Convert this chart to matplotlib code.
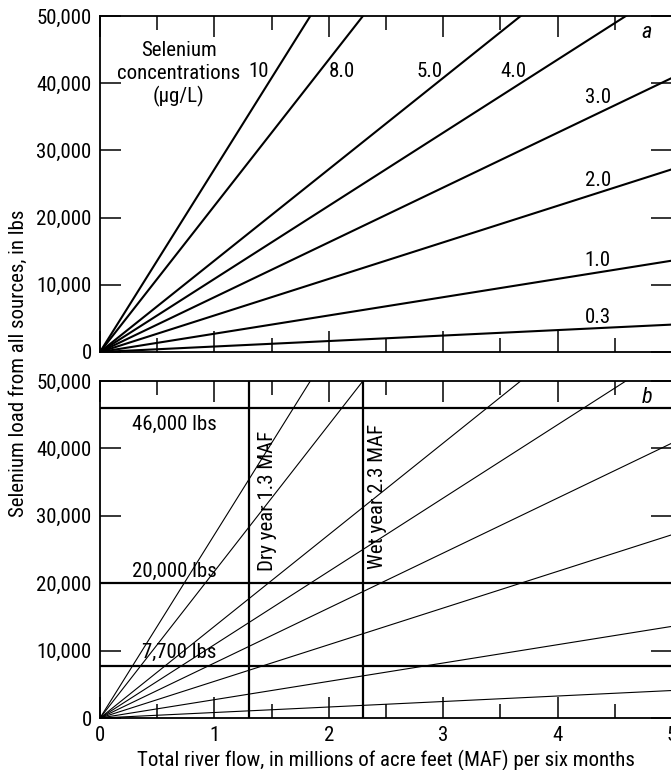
import matplotlib
matplotlib.use("Agg")
import matplotlib.pyplot as plt
from matplotlib.ticker import FuncFormatter, MultipleLocator

plt.rcParams['font.family'] = ['Roboto Condensed', 'Roboto', 'DejaVu Sans']

# Selenium concentrations (ug/L) drawn as load lines
concentrations = [0.3, 1.0, 2.0, 3.0, 4.0, 5.0, 8.0, 10.0]
conc_labels = ["0.3", "1.0", "2.0", "3.0", "4.0", "5.0", "8.0", "10"]
# label anchor positions (flow in MAF, load in lbs)
label_x = [4.35, 4.35, 4.35, 4.35, 3.61, 2.88, 2.11, 1.39]
label_y = [5200, 13600, 25500, 37900, 41800, 41800, 41800, 41800]

# 1 ug/L in one million acre-feet of water, expressed in pounds
LBS_PER_MAF_PER_UGL = 2719.4

flow_range = [0.0, 5.0]

# Reference loads and flows for panel b
load_targets = [46000, 20000, 7700]
load_target_labels = ["46,000 lbs", "20,000 lbs", "7,700 lbs"]
load_label_x = [0.65, 0.65, 0.69]
load_label_y = [43500, 21800, 9800]

year_flows = [1.3, 2.3]
year_labels = ["Dry year 1.3 MAF", "Wet year 2.3 MAF"]
year_label_x = [1.46, 2.43]
year_label_y = [32200, 32900]

y_ticks = [0, 10000, 20000, 30000, 40000, 50000]
x_ticks = [0, 1, 2, 3, 4, 5]

FS = 15

fig = plt.figure(figsize=(6.71, 7.7), dpi=100)
ax_a = fig.add_axes([100 / 671, 1 - 352 / 770, 572 / 671, 336 / 770])
ax_b = fig.add_axes([100 / 671, 1 - 718 / 770, 572 / 671, 337 / 770])


def style_axes(ax, show_x_labels):
    ax.set_xlim(0, 5)
    ax.set_ylim(0, 50000)
    ax.set_xticks(x_ticks)
    ax.xaxis.set_minor_locator(MultipleLocator(0.5))
    ax.set_yticks(y_ticks)
    ax.yaxis.set_major_formatter(FuncFormatter(lambda v, p: f"{int(v):,}"))
    ax.tick_params(axis='both', which='major', direction='in', length=15,
                   width=1.1, labelsize=FS, pad=6, top=True, right=True)
    ax.tick_params(axis='x', which='minor', direction='in', length=10,
                   width=1.1, top=True, bottom=True)
    ax.tick_params(axis='x', labelbottom=show_x_labels)
    for s in ax.spines.values():
        s.set_linewidth(1.3)


style_axes(ax_a, False)
style_axes(ax_b, True)

for c in concentrations:
    loads = [c * LBS_PER_MAF_PER_UGL * f for f in flow_range]
    ax_a.plot(flow_range, loads, color='black', lw=1.5, solid_capstyle='butt')
    ax_b.plot(flow_range, loads, color='black', lw=0.8, solid_capstyle='butt')

for lab, x, y in zip(conc_labels, label_x, label_y):
    ax_a.text(x, y, lab, fontsize=FS, ha='center', va='center')

ax_a.text(0.69, 41300, "Selenium\nconcentrations\n(\u00b5g/L)", fontsize=FS,
          ha='center', va='center', linespacing=1.22)
ax_a.text(4.78, 47500, "a", fontsize=FS + 1, style='italic', ha='center', va='center')
ax_b.text(4.78, 47500, "b", fontsize=FS + 1, style='italic', ha='center', va='center')

for yv, lab, x, y in zip(load_targets, load_target_labels, load_label_x, load_label_y):
    ax_b.axhline(yv, color='black', lw=1.6)
    ax_b.text(x, y, lab, fontsize=FS, ha='center', va='center')

for xv, lab, x, y in zip(year_flows, year_labels, year_label_x, year_label_y):
    ax_b.axvline(xv, color='black', lw=1.6)
    ax_b.text(x, y, lab, fontsize=FS, ha='center', va='center', rotation=90)

ax_b.set_xlabel("Total river flow, in millions of acre feet (MAF) per six months",
                fontsize=FS, labelpad=3)
fig.text(18 / 671, 1 - 363 / 770, "Selenium load from all sources, in lbs",
         fontsize=FS, rotation=90, ha='center', va='center')

fig.savefig("out.png", dpi=100)
